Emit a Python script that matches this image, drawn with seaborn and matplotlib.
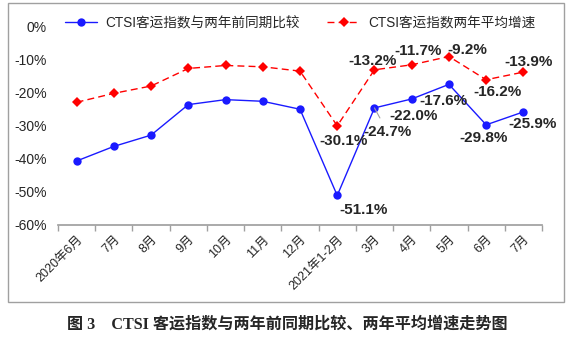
import matplotlib
matplotlib.use("Agg")
import matplotlib.pyplot as plt
import seaborn as sns
import pandas as pd
import numpy as np
from matplotlib.patches import Rectangle

categories = ["2020年6月", "7月", "8月", "9月", "10月", "11月", "12月",
              "2021年1-2月", "3月", "4月", "5月", "6月", "7月"]
vs_two_years = [-40.7, -36.3, -32.9, -23.7, -22.2, -22.7, -25.1,
                -51.1, -24.7, -22.0, -17.6, -29.8, -25.9]
avg_growth = [-23.0, -20.3, -18.1, -12.8, -11.9, -12.3, -13.6,
              -30.1, -13.2, -11.7, -9.2, -16.2, -13.9]
name_blue = "CTSI客运指数与两年前同期比较"
name_red = "CTSI客运指数两年平均增速"
yticks = [0, -10, -20, -30, -40, -50, -60]
title = "图 3　CTSI 客运指数与两年前同期比较、两年平均增速走势图"

sns.set_theme(style="white")
plt.rcParams['font.family'] = ['Liberation Sans', 'Noto Sans CJK SC']

fig = plt.figure(figsize=(5.73, 3.42), dpi=100)
# outer frame
fig.patches.append(Rectangle((8/573, 1-302/342), (564-8)/573, (302-3)/342,
                             transform=fig.transFigure, fill=False,
                             edgecolor="#a0a0a0", linewidth=1.0))
ax = fig.add_axes([58/573, 1-225/342, (542-58)/573, (225-26)/342])

df = pd.DataFrame({"idx": np.arange(len(categories)),
                   "blue": vs_two_years, "red": avg_growth})

sns.lineplot(data=df, x="idx", y="blue", ax=ax, color="#1a1aff", linewidth=1.0,
             marker="o", markersize=6, markeredgewidth=0, label=name_blue, clip_on=False)
sns.lineplot(data=df, x="idx", y="red", ax=ax, color="#ff0000", linewidth=1.0,
             linestyle=(0, (5, 3)), marker="D", markersize=5.5, markeredgewidth=0,
             label=name_red, clip_on=False)

ax.set_xlim(-0.5, len(categories) - 0.5)
ax.set_ylim(-60, 0)
ax.set_yticks(yticks)
ax.set_yticklabels([f"{v}%" for v in yticks], fontsize=10)
ax.set_xticks(np.arange(len(categories)))
ax.set_xticklabels(categories, rotation=45, ha="right", va="top",
                   rotation_mode="anchor", fontsize=9)
ax.set_xticks(np.arange(-0.5, len(categories)), minor=True)
ax.tick_params(axis="x", which="major", length=0, pad=6)
ax.tick_params(axis="x", which="minor", length=4, color="#a0a0a0", width=1,
               direction="out", bottom=True)
ax.tick_params(axis="y", length=0, pad=8)
for s in ["top", "right", "left"]:
    ax.spines[s].set_visible(False)
ax.spines["bottom"].set_color("#a0a0a0")
ax.set_xlabel("")
ax.set_ylabel("")
ax.grid(False)

leg = ax.legend(loc="center", bbox_to_anchor=(0.5, 1.0 + 3/199), ncol=2, frameon=False,
                handlelength=2.4, handletextpad=0.6, columnspacing=2.0,
                prop={"size": 9.8})

# annotations (pixel offsets)
ann_blue = {7: (26, 15), 8: (13, 24), 9: (2, 17), 10: (-5, 17), 11: (-3, 13), 12: (9, 12)}
ann_red = {7: (6, 15), 8: (-2, -9), 9: (6, -14), 10: (18, -7), 11: (11, 12), 12: (5, -10)}
for i, (dx, dy) in ann_blue.items():
    v = vs_two_years[i]
    kw = {}
    if i == 8:
        kw["arrowprops"] = dict(arrowstyle="-", color="#a0a0a0", lw=0.8,
                                shrinkA=3, shrinkB=0)
    ax.annotate(f"{v:.1f}%", (i, v), xytext=(dx, -dy), textcoords="offset pixels",
                ha="center", va="center", fontsize=11, fontweight="bold", **kw)
for i, (dx, dy) in ann_red.items():
    v = avg_growth[i]
    ax.annotate(f"{v:.1f}%", (i, v), xytext=(dx, -dy), textcoords="offset pixels",
                ha="center", va="center", fontsize=11, fontweight="bold")

fig.text(287/573, 1 - 325/342, title, ha="center", va="center", fontsize=11.6,
         fontweight="bold", family=["Liberation Serif", "Noto Sans CJK SC"])

fig.savefig("out.png", dpi=100)
